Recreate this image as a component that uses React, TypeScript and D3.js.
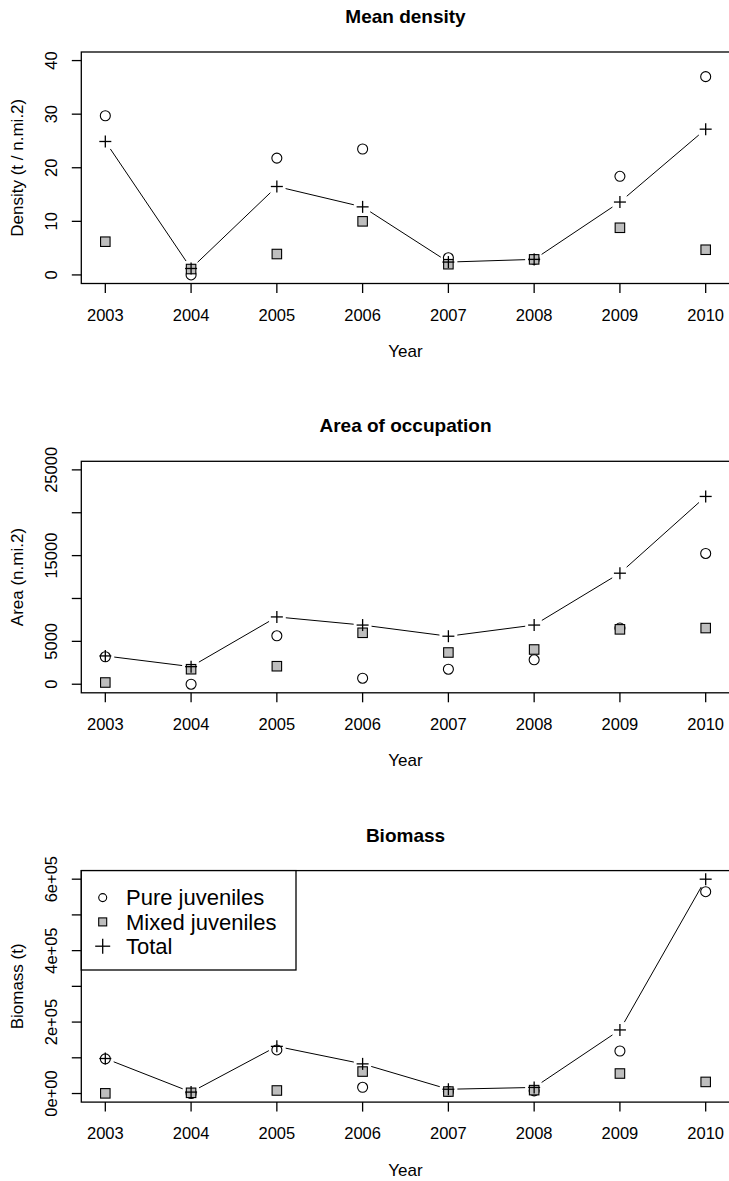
import React from "react";
import * as d3 from "d3";

// Survey years
const years = [2003, 2004, 2005, 2006, 2007, 2008, 2009, 2010];

// Mean density (t / n.mi.2)
const densityPure = [29.7, 0.0, 21.8, 23.5, 3.2, 2.9, 18.4, 37.0];
const densityMixed = [6.2, 1.1, 3.9, 10.0, 2.0, 2.9, 8.8, 4.7];
const densityTotal = [24.9, 1.2, 16.5, 12.7, 2.4, 2.9, 13.6, 27.2];

// Area of occupation (n.mi.2)
const areaPure = [3200, 0, 5650, 700, 1750, 2850, 6550, 15250];
const areaMixed = [200, 1750, 2100, 6000, 3700, 4050, 6400, 6550];
const areaTotal = [3300, 2050, 7850, 6900, 5600, 6900, 12950, 21900];

// Biomass (t)
const biomassPure = [97000, 0, 122000, 17500, 5500, 7500, 119000, 565000];
const biomassMixed = [500, 2000, 8500, 61500, 5500, 9500, 56000, 32500];
const biomassTotal = [98000, 4000, 132000, 83000, 12000, 17000, 178000, 600000];

// Axis ticks and their printed labels (null = tick without label)
const densityTicks = [0, 10, 20, 30, 40];
const densityTickLabels = ["0", "10", "20", "30", "40"];
const areaTicks = [0, 5000, 10000, 15000, 20000, 25000];
const areaTickLabels = ["0", "5000", null, "15000", null, "25000"];
const biomassTicks = [0, 100000, 200000, 300000, 400000, 500000, 600000];
const biomassTickLabels = ["0e+00", null, "2e+05", null, "4e+05", null, "6e+05"];

const legendLabels = ["Pure juveniles", "Mixed juveniles", "Total"];

const FONT = "'Liberation Sans', Arial, Helvetica, sans-serif";
const W = 729;
const H = 1181;
const PANEL_STEP = 409.3;
const BOX_LEFT = 81.3;
const BOX_RIGHT = 729.7;
const BOX_TOP = 52;
const BOX_BOTTOM = 283.5;
const GREY = "#bebebe";

type PanelProps = {
  offset: number;
  title: string;
  yTitle: string;
  ymax: number;
  ticks: number[];
  tickLabels: (string | null)[];
  pure: number[];
  mixed: number[];
  total: number[];
  legend?: boolean;
};

function Circle({ x, y, r = 5 }: { x: number; y: number; r?: number }) {
  return <circle cx={x} cy={y} r={r} fill="none" stroke="#000" strokeWidth={1.1} />;
}

function Square({ x, y, s = 9.5 }: { x: number; y: number; s?: number }) {
  return (
    <rect x={x - s / 2} y={y - s / 2} width={s} height={s} fill={GREY} stroke="#000" strokeWidth={1.1} />
  );
}

function Plus({ x, y, h = 6 }: { x: number; y: number; h?: number }) {
  return (
    <g stroke="#000" strokeWidth={1.3}>
      <line x1={x - h} x2={x + h} y1={y} y2={y} />
      <line x1={x} x2={x} y1={y - h} y2={y + h} />
    </g>
  );
}

function Panel(p: PanelProps) {
  const top = p.offset + BOX_TOP;
  const bottom = p.offset + BOX_BOTTOM;
  const pad = 0.04 * (years[years.length - 1] - years[0]);
  const x = d3
    .scaleLinear()
    .domain([years[0] - pad, years[years.length - 1] + pad])
    .range([BOX_LEFT, BOX_RIGHT]);
  const ypad = 0.04 * p.ymax;
  const y = d3.scaleLinear().domain([-ypad, p.ymax + ypad]).range([bottom, top]);

  // line with gaps around each point (R's type = "b")
  const pts = years.map((yr, i) => [x(yr), y(p.total[i])] as [number, number]);
  const gap = 9;
  const segs: [number, number][][] = [];
  for (let i = 0; i < pts.length - 1; i++) {
    const [x0, y0] = pts[i];
    const [x1, y1] = pts[i + 1];
    const len = Math.hypot(x1 - x0, y1 - y0);
    if (len <= 2 * gap) continue;
    const ux = (x1 - x0) / len;
    const uy = (y1 - y0) / len;
    segs.push([
      [x0 + ux * gap, y0 + uy * gap],
      [x1 - ux * gap, y1 - uy * gap],
    ]);
  }
  const lineGen = d3.line();
  const cx = (BOX_LEFT + BOX_RIGHT) / 2;
  const cy = (top + bottom) / 2;

  return (
    <g fontFamily={FONT} fill="#000">
      <text x={cx} y={p.offset + 23} textAnchor="middle" fontWeight="bold" fontSize={19}>
        {p.title}
      </text>
      {/* plot box */}
      <rect x={BOX_LEFT} y={top} width={BOX_RIGHT - BOX_LEFT} height={bottom - top} fill="none" stroke="#000" strokeWidth={1.3} />
      {/* x axis */}
      {years.map((yr) => (
        <g key={yr}>
          <line x1={x(yr)} x2={x(yr)} y1={bottom} y2={bottom + 9.5} stroke="#000" strokeWidth={1.3} />
          <text x={x(yr)} y={bottom + 37} textAnchor="middle" fontSize={16.5}>
            {yr}
          </text>
        </g>
      ))}
      <text x={cx} y={bottom + 73.5} textAnchor="middle" fontSize={17}>
        Year
      </text>
      {/* y axis */}
      {p.ticks.map((t, i) => (
        <g key={t}>
          <line x1={BOX_LEFT - 9.5} x2={BOX_LEFT} y1={y(t)} y2={y(t)} stroke="#000" strokeWidth={1.3} />
          {p.tickLabels[i] !== null && (
            <text transform={`translate(57,${y(t)}) rotate(-90)`} textAnchor="middle" fontSize={16.5}>
              {p.tickLabels[i]}
            </text>
          )}
        </g>
      ))}
      <text transform={`translate(22.5,${cy}) rotate(-90)`} textAnchor="middle" fontSize={17}>
        {p.yTitle}
      </text>
      {/* total line */}
      {segs.map((s, i) => (
        <path key={i} d={lineGen(s) || ""} fill="none" stroke="#000" strokeWidth={1} />
      ))}
      {/* points */}
      {years.map((yr, i) => (
        <Circle key={"c" + yr} x={x(yr)} y={y(p.pure[i])} />
      ))}
      {years.map((yr, i) => (
        <Square key={"s" + yr} x={x(yr)} y={y(p.mixed[i])} />
      ))}
      {years.map((yr, i) => (
        <Plus key={"p" + yr} x={x(yr)} y={y(p.total[i])} />
      ))}
      {p.legend && (
        <g>
          <rect x={BOX_LEFT} y={top} width={296 - BOX_LEFT} height={970 - top} fill="#fff" stroke="#000" strokeWidth={1.3} />
          {legendLabels.map((lab, i) => {
            const ly = top + 27 + i * 24.3;
            return (
              <g key={lab}>
                {i === 0 && <Circle x={102.7} y={ly} r={4} />}
                {i === 1 && <Square x={102.7} y={ly} s={8} />}
                {i === 2 && <Plus x={102.7} y={ly} h={7.5} />}
                <text x={126} y={ly} dy="0.35em" fontSize={22}>
                  {lab}
                </text>
              </g>
            );
          })}
        </g>
      )}
    </g>
  );
}

export default function App() {
  return (
    <svg
      width={W}
      height={H}
      viewBox={`0 0 ${W} ${H}`}
      style={{ position: "absolute", left: 0, top: 0, background: "#fff" }}
    >
      <rect width={W} height={H} fill="#fff" />
      <Panel
        offset={0}
        title="Mean density"
        yTitle="Density (t / n.mi.2)"
        ymax={40}
        ticks={densityTicks}
        tickLabels={densityTickLabels}
        pure={densityPure}
        mixed={densityMixed}
        total={densityTotal}
      />
      <Panel
        offset={PANEL_STEP}
        title="Area of occupation"
        yTitle="Area (n.mi.2)"
        ymax={25000}
        ticks={areaTicks}
        tickLabels={areaTickLabels}
        pure={areaPure}
        mixed={areaMixed}
        total={areaTotal}
      />
      <Panel
        offset={PANEL_STEP * 2}
        title="Biomass"
        yTitle="Biomass (t)"
        ymax={600000}
        ticks={biomassTicks}
        tickLabels={biomassTickLabels}
        pure={biomassPure}
        mixed={biomassMixed}
        total={biomassTotal}
        legend
      />
    </svg>
  );
}
